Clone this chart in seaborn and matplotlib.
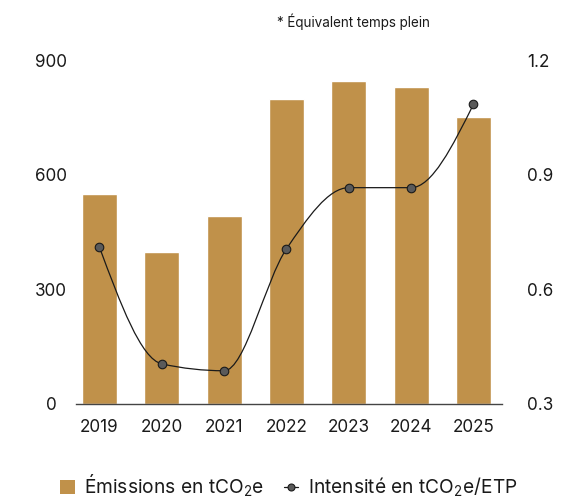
import numpy as np
import pandas as pd
import matplotlib
matplotlib.use("Agg")
import matplotlib.pyplot as plt
import seaborn as sns
from matplotlib.path import Path
from matplotlib.patches import PathPatch, Patch
from matplotlib.lines import Line2D

# valeurs
years = ["2019", "2020", "2021", "2022", "2023", "2024", "2025"]
emissions = [550, 398, 492, 798, 845, 829, 751]
intensity = [0.71, 0.405, 0.387, 0.706, 0.866, 0.866, 1.084]

left_ticks = [0, 300, 600, 900]
right_ticks = [0.3, 0.6, 0.9, 1.2]

BAR = "#C0914A"
TXT = "#1a1a1a"
W, H = 562, 503


def monotone_path(xs, ys):
    # courbe monotone (type d3 curveMonotoneX) en segments de Bezier
    xs = np.asarray(xs, float)
    ys = np.asarray(ys, float)
    n = len(xs)
    h = np.diff(xs)
    s = np.diff(ys) / h
    t = np.zeros(n)
    sgn = lambda v: -1.0 if v < 0 else 1.0
    for i in range(1, n - 1):
        p = (s[i - 1] * h[i] + s[i] * h[i - 1]) / (h[i - 1] + h[i])
        t[i] = (sgn(s[i - 1]) + sgn(s[i])) * min(abs(s[i - 1]), abs(s[i]), 0.5 * abs(p))
    t[0] = (3 * s[0] - t[1]) / 2
    t[-1] = (3 * s[-1] - t[-2]) / 2
    verts = [(xs[0], ys[0])]
    codes = [Path.MOVETO]
    for i in range(n - 1):
        dx = h[i] / 3
        verts += [(xs[i] + dx, ys[i] + dx * t[i]),
                  (xs[i + 1] - dx, ys[i + 1] - dx * t[i + 1]),
                  (xs[i + 1], ys[i + 1])]
        codes += [Path.CURVE4] * 3
    return Path(verts, codes)


sns.set_style("white")
plt.rcParams['font.family'] = ['Inter', 'DejaVu Sans']
plt.rcParams['mathtext.fontset'] = 'custom'
plt.rcParams['mathtext.rm'] = 'Inter'
plt.rcParams['mathtext.default'] = 'regular'

fig = plt.figure(figsize=(W / 100, H / 100), dpi=100)
ax = fig.add_axes([76 / W, 99 / H, 426 / W, 344 / H])

df = pd.DataFrame({"year": years, "emissions": emissions})
sns.barplot(data=df, x="year", y="emissions", color=BAR, saturation=1,
            width=0.56, ax=ax)
ax.set_xlim(-0.377, 6.458)
ax.set_ylim(0, 900)
ax.set_yticks(left_ticks)
ax.set_yticklabels([str(v) for v in left_ticks])
ax.set_xlabel("")
ax.set_ylabel("")
for sp in ["left", "right", "top"]:
    ax.spines[sp].set_visible(False)
ax.spines["bottom"].set_color("#444444")
ax.spines["bottom"].set_linewidth(1.0)
ax.tick_params(axis="y", length=0, pad=18, labelsize=12.3, labelcolor=TXT)
ax.tick_params(axis="x", length=0, pad=10.5, labelsize=12.3, labelcolor=TXT)
for lbl in ax.get_yticklabels():
    lbl.set_horizontalalignment("center")

ax2 = ax.twinx()
ax2.set_ylim(0.3, 1.2)
ax2.set_yticks(right_ticks)
ax2.set_yticklabels([f"{v:.1f}" for v in right_ticks])
for sp in ax2.spines.values():
    sp.set_visible(False)
ax2.tick_params(axis="y", length=0, pad=18, labelsize=12.3, labelcolor=TXT)

xpos = np.arange(len(years))
ax2.add_patch(PathPatch(monotone_path(xpos, intensity), facecolor="none",
                        edgecolor="#1a1a1a", linewidth=0.9, zorder=3))
sns.scatterplot(x=xpos, y=intensity, ax=ax2, s=38, color="#5a5a5a",
                edgecolor="#1a1a1a", linewidth=0.8, zorder=4, legend=False)
ax2.set_xlim(-0.377, 6.458)

fig.text(277 / W, 1 - 22 / H, "* Équivalent temps plein", fontsize=9.7,
         color=TXT, ha="left", va="center")

handles = [Patch(facecolor=BAR, edgecolor="none"),
           Line2D([], [], color="#1a1a1a", lw=0.9, marker="o", markersize=5,
                  markerfacecolor="#5a5a5a", markeredgecolor="#1a1a1a",
                  markeredgewidth=0.8)]
labels = ["Émissions en tCO$_2$e", "Intensité en tCO$_2$e/ETP"]
fig.legend(handles, labels, loc="lower center", bbox_to_anchor=(0.514, -0.008),
           ncol=2, frameon=False, fontsize=13.8, handlelength=0.75,
           handleheight=0.75, handletextpad=0.5, columnspacing=1.0,
           borderaxespad=0.0, labelcolor=TXT)

fig.savefig("out.png", dpi=100)
